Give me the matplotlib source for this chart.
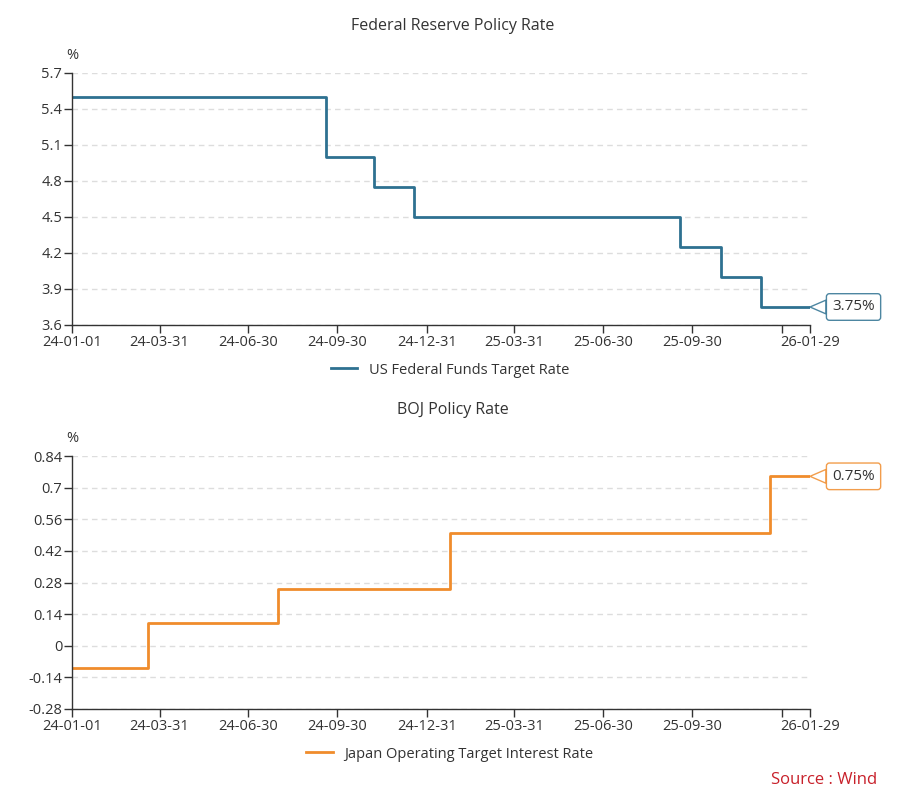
import pandas as pd
import matplotlib.pyplot as plt

plt.rcParams['font.family'] = ['Open Sans', 'DejaVu Sans']

# Fed funds target rate (upper bound), change dates
fed_dates = ['2024-01-01', '2024-09-18', '2024-11-07', '2024-12-18',
             '2025-09-17', '2025-10-29', '2025-12-10', '2026-01-29']
fed_rates = [5.5, 5.0, 4.75, 4.5, 4.25, 4.0, 3.75, 3.75]

# BOJ operating target, change dates
boj_dates = ['2024-01-01', '2024-03-19', '2024-07-31', '2025-01-24',
             '2025-12-19', '2026-01-29']
boj_rates = [-0.1, 0.1, 0.25, 0.5, 0.75, 0.75]

tick_dates = ['2024-01-01', '2024-03-31', '2024-06-30', '2024-09-30', '2024-12-31',
              '2025-03-31', '2025-06-30', '2025-09-30', '2025-12-31', '2026-01-29']
tick_labels = ['24-01-01', '24-03-31', '24-06-30', '24-09-30', '24-12-31',
               '25-03-31', '25-06-30', '25-09-30', '', '26-01-29']

fed_ticks = [3.6, 3.9, 4.2, 4.5, 4.8, 5.1, 5.4, 5.7]
boj_ticks = [-0.28, -0.14, 0, 0.14, 0.28, 0.42, 0.56, 0.7, 0.84]

fed_color = '#2e7191'
boj_color = '#f08c2c'
txt = '#333333'

fig = plt.figure(figsize=(9, 8), dpi=100)
ax1 = fig.add_axes([0.08, 0.59375, 0.82, 0.315])
ax2 = fig.add_axes([0.08, 0.11375, 0.82, 0.31625])


def style_axis(ax, dates, rates, color, yticks, ylabels, label, title, title_y, leg_y):
    d = pd.to_datetime(dates)
    ax.plot(d, rates, drawstyle='steps-post', color=color, lw=2, label=label)
    ax.set_xlim(pd.Timestamp('2024-01-01'), pd.Timestamp('2026-01-29'))
    ax.set_ylim(yticks[0], yticks[-1])
    ax.set_yticks(yticks)
    ax.set_yticklabels(ylabels)
    ax.set_xticks(pd.to_datetime(tick_dates))
    ax.set_xticklabels(tick_labels)
    for s in ['top', 'right']:
        ax.spines[s].set_visible(False)
    for s in ['left', 'bottom']:
        ax.spines[s].set_color(txt)
        ax.spines[s].set_linewidth(1)
    ax.tick_params(colors=txt, labelsize=10.5, length=6, width=1, pad=1)
    ax.yaxis.grid(True, ls=(0, (4, 3)), color='#dddddd', lw=1)
    ax.set_axisbelow(True)
    ax.text(0.0, 1.04, '%', transform=ax.transAxes, fontsize=10.5, color=txt,
            ha='center', va='bottom')
    fig.text(0.503, title_y, title, ha='center', va='center', fontsize=11.5, color=txt)
    ax.legend(loc='center', bbox_to_anchor=(0.5, leg_y), bbox_transform=fig.transFigure,
              frameon=False, fontsize=10.5, handlelength=1.8, labelcolor=txt)
    last = rates[-1]
    ax.annotate('%.2f%%' % last, xy=(d[-1], last), xytext=(16, 0),
                textcoords='offset points', ha='left', va='center', fontsize=11,
                color=txt, annotation_clip=False,
                bbox=dict(boxstyle='round,pad=0.38,rounding_size=0.2', fc='white',
                          ec=color, lw=1, alpha=0.85),
                arrowprops=dict(arrowstyle='wedge,tail_width=0.9,shrink_factor=0.5',
                                fc='white', ec=color, lw=1, alpha=0.85,
                                shrinkA=0, shrinkB=0))


style_axis(ax1, fed_dates, fed_rates, fed_color, fed_ticks,
           ['%.1f' % v for v in fed_ticks], 'US Federal Funds Target Rate',
           'Federal Reserve Policy Rate', 1 - 26 / 800, 1 - 370 / 800)
style_axis(ax2, boj_dates, boj_rates, boj_color, boj_ticks,
           ['%g' % v for v in boj_ticks], 'Japan Operating Target Interest Rate',
           'BOJ Policy Rate', 1 - 410 / 800, 1 - 754 / 800)

fig.text(0.975, 1 - 780 / 800, 'Source : Wind', ha='right', va='center',
         fontsize=12, color='#c8202a')

fig.savefig('out.png', dpi=100)
